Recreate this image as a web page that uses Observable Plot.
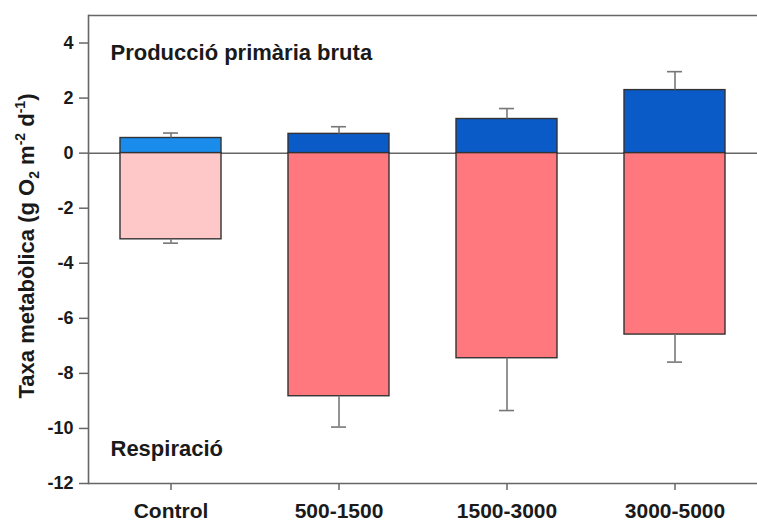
<!DOCTYPE html>
<html>
<head>
<meta charset="utf-8">
<script src="https://cdn.jsdelivr.net/npm/d3@7"></script>
<script src="https://cdn.jsdelivr.net/npm/@observablehq/plot@0.6"></script>
<style>
  html, body { margin: 0; padding: 0; background: #fff; overflow: hidden; }
  #chart svg { display: block; }
</style>
</head>
<body>
<div id="chart"></div>
<script>
// Altitude classes (m) and metabolic rates, g O2 m-2 d-1
const categories = ["Control", "500-1500", "1500-3000", "3000-5000"];
const produccio = [0.55, 0.70, 1.24, 2.29];        // gross primary production
const produccioErr = [0.18, 0.26, 0.38, 0.67];
const respiracio = [-3.13, -8.83, -7.45, -6.59];   // respiration
const respiracioErr = [0.14, 1.12, 1.90, 1.00];
const produccioColors = ["#1a8ceb", "#0a5ac8", "#0a5ac8", "#0a5ac8"];
const respiracioColors = ["#ffc8c8", "#ff787d", "#ff787d", "#ff787d"];
const yTicks = [-12, -10, -8, -6, -4, -2, 0, 2, 4];

const rows = categories.map((categoria, i) => ({
  categoria,
  gpp: produccio[i],
  gppTop: produccio[i] + produccioErr[i],
  gppColor: produccioColors[i],
  resp: respiracio[i],
  respBottom: respiracio[i] - respiracioErr[i],
  respColor: respiracioColors[i]
}));

const font = "'Liberation Sans', Arial, sans-serif";

const chart = Plot.plot({
  width: 757,
  height: 526,
  marginLeft: 88,
  marginRight: 0,
  marginTop: 15,
  marginBottom: 43,
  style: { fontFamily: font, fontWeight: "bold", fontSize: "18px", color: "#1a1a1a", background: "#fff" },
  x: { domain: categories, paddingInner: 0.4, paddingOuter: 0.18, label: null },
  y: { domain: [-12, 5], label: null },
  marks: [
    Plot.ruleY([0], { stroke: "#666", strokeWidth: 1.5 }),
    Plot.barY(rows, { x: "categoria", y1: 0, y2: "gpp", fill: "gppColor", stroke: "#333", strokeWidth: 1.4 }),
    Plot.barY(rows, { x: "categoria", y1: 0, y2: "resp", fill: "respColor", stroke: "#333", strokeWidth: 1.4 }),
    Plot.ruleX(rows, { x: "categoria", y1: "gpp", y2: "gppTop", stroke: "#777", strokeWidth: 1.6 }),
    Plot.tickY(rows, { x: "categoria", y: "gppTop", stroke: "#777", strokeWidth: 1.6, insetLeft: 43, insetRight: 43 }),
    Plot.ruleX(rows, { x: "categoria", y1: "resp", y2: "respBottom", stroke: "#777", strokeWidth: 1.6 }),
    Plot.tickY(rows, { x: "categoria", y: "respBottom", stroke: "#777", strokeWidth: 1.6, insetLeft: 43, insetRight: 43 }),
    Plot.axisY({ ticks: yTicks, tickFormat: d => String(d), tickSize: 9, tickPadding: 6, fontSize: 18, stroke: "#666", strokeWidth: 1.5, label: null }),
    Plot.axisX({ tickSize: 7, tickPadding: 13, fontSize: 21, stroke: "#666", strokeWidth: 1.5, label: null }),
    Plot.ruleY([5], { stroke: "#666", strokeWidth: 1.6 }),
    Plot.ruleY([-12], { stroke: "#666", strokeWidth: 1.6 }),
    Plot.frame({ anchor: "left", stroke: "#666", strokeWidth: 1.6 }),
    Plot.text(["Producció primària bruta"], {
      frameAnchor: "top-left", dx: 22, dy: 29, textAnchor: "start",
      fontSize: 22, fontWeight: "bold", fill: "#1a1a1a"
    }),
    Plot.text(["Respiració"], {
      frameAnchor: "bottom-left", dx: 22, dy: -28, textAnchor: "start",
      fontSize: 22, fontWeight: "bold", fill: "#1a1a1a"
    })
  ]
});

// Rotated y-axis title with subscript and superscripts
const svg = d3.select(chart);
const yTitle = svg.append("text")
  .attr("transform", "translate(34,246) rotate(-90)")
  .attr("text-anchor", "middle")
  .attr("font-family", font)
  .attr("font-weight", "bold")
  .attr("font-size", 22)
  .attr("fill", "#1a1a1a");
yTitle.append("tspan").text("Taxa metabòlica (g O");
yTitle.append("tspan").attr("font-size", 14).attr("dy", 5).text("2");
yTitle.append("tspan").attr("dy", -5).text(" m");
yTitle.append("tspan").attr("font-size", 14).attr("dy", -9).text("-2");
yTitle.append("tspan").attr("dy", 9).text(" d");
yTitle.append("tspan").attr("font-size", 14).attr("dy", -9).text("-1");
yTitle.append("tspan").attr("dy", 9).text(")");

document.getElementById("chart").appendChild(chart);
</script>
</body>
</html>
